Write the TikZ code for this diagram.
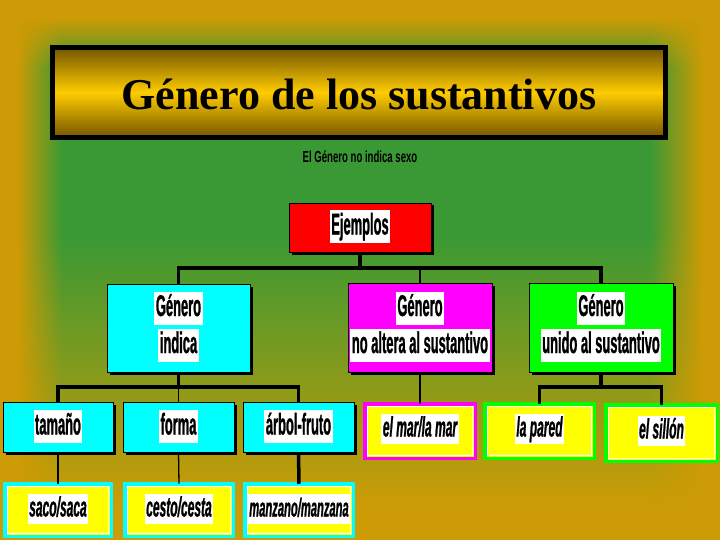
\documentclass[tikz,border=0pt]{standalone}
\usepackage{fontspec}
\setmainfont{Liberation Serif}
\newfontfamily\nar[FakeStretch=0.43,FakeBold=0.8]{Liberation Sans}
\newfontfamily\narsub[FakeStretch=0.6]{Liberation Sans}
\usetikzlibrary{fadings,shadows,calc}
\definecolor{bgGold}{RGB}{205,155,5}
\definecolor{bgGreen}{RGB}{58,153,52}
\definecolor{tDark}{RGB}{115,85,0}
\definecolor{tBright}{RGB}{255,204,0}
\definecolor{cyanB}{RGB}{0,255,255}
\definecolor{magB}{RGB}{255,0,255}
\definecolor{grnB}{RGB}{0,255,0}
\definecolor{yelB}{RGB}{255,255,0}
\definecolor{redB}{RGB}{255,0,0}
\tikzfading[name=fadeR, left color=transparent!0, right color=transparent!100]
\tikzfading[name=fadeL, left color=transparent!100, right color=transparent!0]
\tikzfading[name=fadeD, top color=transparent!0, bottom color=transparent!100]
\begin{document}
\begin{tikzpicture}[x=1pt,y=-1pt,
  box/.style={draw=black, line width=0.8pt, inner sep=0pt,
    drop shadow={shadow xshift=2.5pt, shadow yshift=-2.5pt, fill=black, opacity=1}},
  ybox/.style={fill=yelB, draw=#1, line width=3.5pt, inner sep=0pt, outer sep=0pt},
  txt/.style={fill=white, inner xsep=1.5pt, inner ysep=1.5pt,
    font=\nar\bfseries\fontsize{30}{36}\selectfont, text height=23pt, text depth=7pt},
  itx/.style={fill=white, inner xsep=1.5pt, inner ysep=1.5pt,
    font=\nar\bfseries\itshape\fontsize{28}{33}\selectfont, text height=21pt, text depth=6pt},
  thk/.style={draw=black, line width=3.5pt},
  thn/.style={draw=black, line width=1.3pt},
  mid/.style={draw=black, line width=2.2pt}]
\useasboundingbox (0,0) rectangle (720,540);
% background
\fill[bgGold] (0,0) rectangle (720,540);
\fill[bgGreen] (0,0) rectangle (720,235);
\shade[top color=bgGreen, bottom color=bgGold] (0,235) rectangle (720,505);
\fill[bgGold] (0,0) rectangle (18,540);
\fill[bgGold, path fading=fadeR] (18,0) rectangle (62,540);
\fill[bgGold] (702,0) rectangle (720,540);
\fill[bgGold, path fading=fadeL] (650,0) rectangle (702,540);
\fill[bgGold] (0,0) rectangle (720,18);
\fill[bgGold, path fading=fadeD] (0,18) rectangle (720,68);
% title
\node[draw=black, line width=5pt, minimum width=613, minimum height=90,
  top color=tDark, bottom color=tDark, middle color=tBright] (tbox) at (359,92.5) {};
\node[anchor=base, font=\bfseries\fontsize{44}{50}\selectfont] (title) at (359,110) {Género de los sustantivos};
\node[font=\narsub\bfseries\fontsize{16}{19}\selectfont] (sub) at (360,157) {El Género no indica sexo};
% level 0
\node[box, fill=redB, minimum width=142, minimum height=49] (ej) at (360,227.5) {};
\node[txt] (ejt) at (360,226.5) {Ejemplos};
% level 1
\node[box, fill=cyanB, minimum width=143, minimum height=88] (g1) at (178.5,328) {};
\node[box, fill=magB, minimum width=144, minimum height=89] (g2) at (420,327.5) {};
\node[box, fill=grnB, minimum width=144, minimum height=89] (g3) at (601,327.5) {};
\node[txt] (g1a) at (178.5,308) {Género};
\node[txt] (g1b) at (178.5,345) {indica};
\node[txt] (g2a) at (420,308) {Género};
\node[txt] (g2b) at (420,345) {no altera al sustantivo};
\node[txt] (g3a) at (601,308) {Género};
\node[txt] (g3b) at (601,345) {unido al sustantivo};
% level 2 cyan
\node[box, fill=cyanB, minimum width=110, minimum height=50] (c1) at (58,427) {};
\node[box, fill=cyanB, minimum width=111, minimum height=50] (c2) at (178.5,427) {};
\node[box, fill=cyanB, minimum width=111, minimum height=50] (c3) at (298.5,427) {};
\node[txt] (c1t) at (58,426.5) {tamaño};
\node[txt] (c2t) at (178.5,426.5) {forma};
\node[txt] (c3t) at (298.5,426.5) {árbol-fruto};
% yellow boxes
\node[ybox=cyanB, minimum width=106.5, minimum height=52.5] (s1) at (58,510) {};
\node[ybox=cyanB, minimum width=108.5, minimum height=52.5] (s2) at (179,510) {};
\node[ybox=cyanB, minimum width=108.5, minimum height=52.5] (s3) at (299,510) {};
\node[ybox=magB, minimum width=110.5, minimum height=54.5] (m1) at (420,431) {};
\node[ybox=grnB, minimum width=109.5, minimum height=54.5] (p1) at (539.5,431) {};
\node[ybox=grnB, minimum width=111.5, minimum height=56.5] (p2) at (661.5,433) {};
\foreach \n in {s1,s2,s3,m1,p1,p2}{
  \draw[white, line width=0.8pt] ([shift={(3,3)}]\n.north west) rectangle ([shift={(-3,-3)}]\n.south east);
}
\node[itx] (s1t) at (58,509) {saco/saca};
\node[itx] (s2t) at (179,509) {cesto/cesta};
\node[itx, font=\nar\bfseries\itshape\fontsize{26}{31}\selectfont] (s3t) at (299,509) {manzano/manzana};
\node[itx] (m1t) at (420,429) {el mar/la mar};
\node[itx] (p1t) at (539.5,429) {la pared};
\node[itx] (p2t) at (661.5,431) {el sillón};
% connectors
\coordinate (bar1) at (360,268);
\coordinate (bar2) at (178.5,387);
\coordinate (bar3) at (601,387);
\draw[thk] (ej.south) -- (bar1);
\draw[thk] (g1.north) -- (g1.north |- bar1) -- (g3.north |- bar1) -- (g3.north);
\draw[thn] (g2.north) -- (g2.north |- bar1);
\draw[thk] (g1.south) -- (bar2);
\draw[thk] (c1.north) -- (c1.north |- bar2) -- (c3.north |- bar2) -- (c3.north);
\draw[thn] (c2.north) -- (c2.north |- bar2);
\draw[mid] (c1.south) -- (s1.north);
\draw[thn] (c2.south) -- (s2.north);
\draw[thk] (c3.south) -- (s3.north);
\draw[thn] (g2.south) -- (m1.north);
\draw[thk] (g3.south) -- (bar3);
\draw[thk] (p1.north) -- (p1.north |- bar3) -- (p2.north |- bar3) -- (p2.north);
\end{tikzpicture}
\end{document}
